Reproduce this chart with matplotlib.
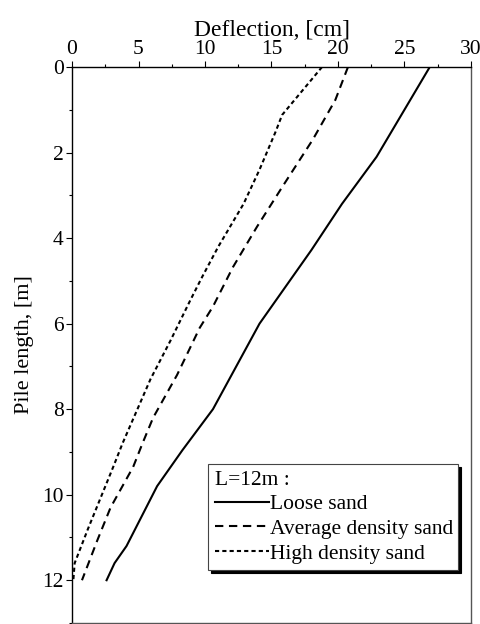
import matplotlib
matplotlib.use("Agg")
import matplotlib.pyplot as plt
from matplotlib.ticker import MultipleLocator

plt.rcParams['font.family'] = ['Liberation Serif', 'DejaVu Serif']

depth_loose = [0, 2.1, 3.2, 4.28, 6.0, 7.2, 8.0, 8.96, 9.8, 11.2, 11.6, 12.0]
defl_loose = [26.9, 22.9, 20.3, 18.0, 14.1, 12.0, 10.6, 8.3, 6.4, 4.1, 3.2, 2.6]

depth_avg = [0, 0.77, 1.7, 2.76, 3.74, 4.68, 5.6, 6.1, 7.2, 8.2, 8.8, 9.35, 10.3, 11.07, 12.0]
defl_avg = [20.75, 19.8, 18.1, 15.9, 13.9, 12.1, 10.6, 9.6, 7.9, 6.1, 5.3, 4.6, 2.9, 1.9, 0.75]

depth_high = [0, 1.12, 1.52, 2.4, 3.2, 4.2, 4.9, 5.45, 6.4, 7.3, 8.8, 9.35, 10.8, 11.6, 12.0]
defl_high = [18.8, 15.8, 15.3, 14.1, 12.9, 11.0, 9.8, 8.9, 7.4, 5.9, 3.8, 3.1, 1.2, 0.2, 0.1]

labels = ["Loose sand", "Average density sand", "High density sand"]
legend_title = "L=12m :"

fig = plt.figure(figsize=(4.81, 6.24), dpi=100)
ax = fig.add_axes([72/481, 1 - 623/624, 399/481, 556/624])

lw = 1.5
ax.plot(defl_loose, depth_loose, color='black', lw=lw, ls='-', label=labels[0])
ax.plot(defl_avg, depth_avg, color='black', lw=lw, dashes=(4, 2.7), label=labels[1])
ax.plot(defl_high, depth_high, color='black', lw=lw, dashes=(2, 1.5), label=labels[2])

ax.set_xlim(0, 30)
ax.set_ylim(13, 0)
ax.xaxis.set_ticks_position('top')
ax.xaxis.set_label_position('top')
ax.xaxis.set_major_locator(MultipleLocator(5))
ax.xaxis.set_minor_locator(MultipleLocator(2.5))
ax.set_yticks(range(0, 13, 2))
ax.yaxis.set_minor_locator(MultipleLocator(1))
ax.tick_params(which='major', direction='out', length=4, width=0.8, labelsize=15.5, pad=2)
ax.tick_params(which='minor', direction='out', length=2.5, width=0.8)
ax.set_xlabel("Deflection, [cm]", fontsize=17, labelpad=3)
ax.set_ylabel("Pile length, [m]", fontsize=16, labelpad=6)

for s in ['top', 'left']:
    ax.spines[s].set_linewidth(1.0)
    ax.spines[s].set_color('black')
for s in ['right', 'bottom']:
    ax.spines[s].set_linewidth(1.0)
    ax.spines[s].set_color('#555555')

leg = ax.legend(loc='lower left', bbox_to_anchor=(0.341, 0.095, 0.626, 0.202),
                mode='expand', title=legend_title, alignment='left',
                fontsize=15.5, title_fontsize=15.5, frameon=True, fancybox=False,
                shadow={'color': 'black', 'alpha': 1.0},
                handlelength=2.55, handletextpad=0.05, labelspacing=0.22,
                borderpad=0.3, borderaxespad=0)
leg.get_frame().set_edgecolor('#444444')
leg.get_frame().set_linewidth(0.8)
leg._legend_box.sep = 3

fig.savefig("out.png", dpi=100)
